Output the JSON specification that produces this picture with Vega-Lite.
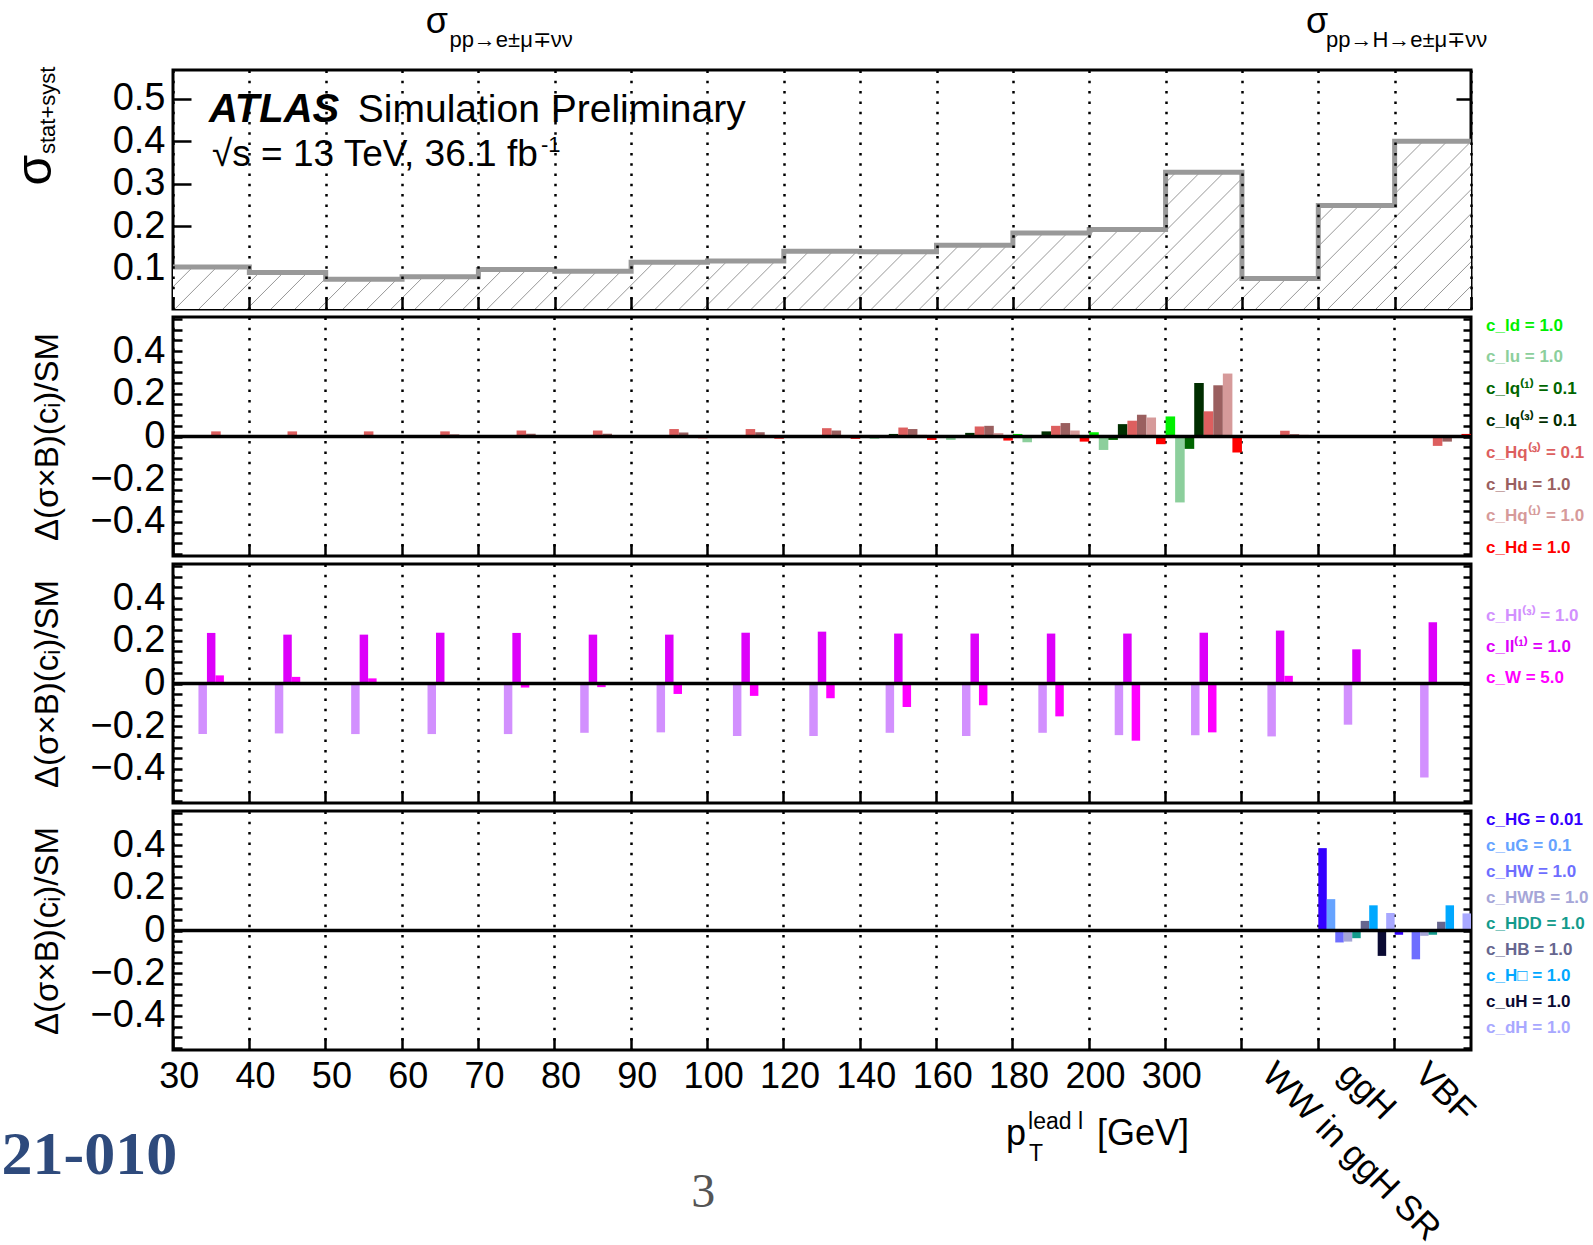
{
"$schema":"https://vega.github.io/schema/vega-lite/v6.json",
"background":"white",
"padding":{"left":0,"top":2,"right":0,"bottom":0},
"autosize":{"type":"pad"},
"config":{"view":{"stroke":"black","strokeWidth":3},"font":"Liberation Sans","axis":{"domain":false,"labelColor":"black","tickColor":"black","tickWidth":2.5,"titleColor":"black","titleFontWeight":"normal","labelFont":"Liberation Sans","titleFont":"Liberation Sans"}},
"datasets":{
"top":[{"i":0,"v":0.104},{"i":1,"v":0.091},{"i":2,"v":0.075},{"i":3,"v":0.081},{"i":4,"v":0.098},{"i":5,"v":0.094},{"i":6,"v":0.115},{"i":7,"v":0.118},{"i":8,"v":0.141},{"i":9,"v":0.140},{"i":10,"v":0.155},{"i":11,"v":0.184},{"i":12,"v":0.192},{"i":13,"v":0.327},{"i":14,"v":0.077},{"i":15,"v":0.249},{"i":16,"v":0.400},{"i":17,"v":0.400}],
"p2":[
{"b":"30","s":"c_Hq⁽³⁾ = 0.1","v":0.024},{"b":"30","s":"c_Hu = 1.0","v":0.004},{"b":"30","s":"c_Hq⁽¹⁾ = 1.0","v":0.002},
{"b":"40","s":"c_Hq⁽³⁾ = 0.1","v":0.024},{"b":"40","s":"c_Hu = 1.0","v":0.004},{"b":"40","s":"c_Hq⁽¹⁾ = 1.0","v":0.002},
{"b":"50","s":"c_Hq⁽³⁾ = 0.1","v":0.024},{"b":"50","s":"c_Hu = 1.0","v":0.004},{"b":"50","s":"c_Hq⁽¹⁾ = 1.0","v":0.002},
{"b":"60","s":"c_Hq⁽³⁾ = 0.1","v":0.024},{"b":"60","s":"c_Hu = 1.0","v":0.010},{"b":"60","s":"c_Hq⁽¹⁾ = 1.0","v":0.003},{"b":"60","s":"c_Hd = 1.0","v":-0.005},
{"b":"70","s":"c_Hq⁽³⁾ = 0.1","v":0.028},{"b":"70","s":"c_Hu = 1.0","v":0.013},{"b":"70","s":"c_Hq⁽¹⁾ = 1.0","v":0.003},{"b":"70","s":"c_Hd = 1.0","v":-0.005},
{"b":"80","s":"c_Hq⁽³⁾ = 0.1","v":0.028},{"b":"80","s":"c_Hu = 1.0","v":0.013},{"b":"80","s":"c_Hq⁽¹⁾ = 1.0","v":0.003},{"b":"80","s":"c_Hd = 1.0","v":-0.005},
{"b":"90","s":"c_lq⁽¹⁾ = 0.1","v":-0.003},{"b":"90","s":"c_Hq⁽³⁾ = 0.1","v":0.035},{"b":"90","s":"c_Hu = 1.0","v":0.019},{"b":"90","s":"c_Hq⁽¹⁾ = 1.0","v":0.004},{"b":"90","s":"c_Hd = 1.0","v":-0.008},
{"b":"100","s":"c_lu = 1.0","v":-0.004},{"b":"100","s":"c_lq⁽¹⁾ = 0.1","v":-0.005},{"b":"100","s":"c_Hq⁽³⁾ = 0.1","v":0.035},{"b":"100","s":"c_Hu = 1.0","v":0.020},{"b":"100","s":"c_Hq⁽¹⁾ = 1.0","v":0.004},{"b":"100","s":"c_Hd = 1.0","v":-0.010},
{"b":"120","s":"c_lu = 1.0","v":-0.005},{"b":"120","s":"c_lq⁽¹⁾ = 0.1","v":-0.004},{"b":"120","s":"c_lq⁽³⁾ = 0.1","v":0.005},{"b":"120","s":"c_Hq⁽³⁾ = 0.1","v":0.039},{"b":"120","s":"c_Hu = 1.0","v":0.028},{"b":"120","s":"c_Hq⁽¹⁾ = 1.0","v":0.006},{"b":"120","s":"c_Hd = 1.0","v":-0.011},
{"b":"140","s":"c_ld = 1.0","v":0.002},{"b":"140","s":"c_lu = 1.0","v":-0.011},{"b":"140","s":"c_lq⁽¹⁾ = 0.1","v":-0.003},{"b":"140","s":"c_lq⁽³⁾ = 0.1","v":0.012},{"b":"140","s":"c_Hq⁽³⁾ = 0.1","v":0.042},{"b":"140","s":"c_Hu = 1.0","v":0.035},{"b":"140","s":"c_Hq⁽¹⁾ = 1.0","v":0.008},{"b":"140","s":"c_Hd = 1.0","v":-0.016},
{"b":"160","s":"c_ld = 1.0","v":0.004},{"b":"160","s":"c_lu = 1.0","v":-0.016},{"b":"160","s":"c_lq⁽¹⁾ = 0.1","v":-0.003},{"b":"160","s":"c_lq⁽³⁾ = 0.1","v":0.017},{"b":"160","s":"c_Hq⁽³⁾ = 0.1","v":0.047},{"b":"160","s":"c_Hu = 1.0","v":0.050},{"b":"160","s":"c_Hq⁽¹⁾ = 1.0","v":0.016},{"b":"160","s":"c_Hd = 1.0","v":-0.019},
{"b":"180","s":"c_ld = 1.0","v":0.012},{"b":"180","s":"c_lu = 1.0","v":-0.027},{"b":"180","s":"c_lq⁽¹⁾ = 0.1","v":-0.005},{"b":"180","s":"c_lq⁽³⁾ = 0.1","v":0.024},{"b":"180","s":"c_Hq⁽³⁾ = 0.1","v":0.050},{"b":"180","s":"c_Hu = 1.0","v":0.063},{"b":"180","s":"c_Hq⁽¹⁾ = 1.0","v":0.028},{"b":"180","s":"c_Hd = 1.0","v":-0.024},
{"b":"200","s":"c_ld = 1.0","v":0.020},{"b":"200","s":"c_lu = 1.0","v":-0.063},{"b":"200","s":"c_lq⁽¹⁾ = 0.1","v":-0.016},{"b":"200","s":"c_lq⁽³⁾ = 0.1","v":0.058},{"b":"200","s":"c_Hq⁽³⁾ = 0.1","v":0.074},{"b":"200","s":"c_Hu = 1.0","v":0.102},{"b":"200","s":"c_Hq⁽¹⁾ = 1.0","v":0.089},{"b":"200","s":"c_Hd = 1.0","v":-0.036},
{"b":"300","s":"c_ld = 1.0","v":0.094},{"b":"300","s":"c_lu = 1.0","v":-0.309},{"b":"300","s":"c_lq⁽¹⁾ = 0.1","v":-0.058},{"b":"300","s":"c_lq⁽³⁾ = 0.1","v":0.251},{"b":"300","s":"c_Hq⁽³⁾ = 0.1","v":0.118},{"b":"300","s":"c_Hu = 1.0","v":0.240},{"b":"300","s":"c_Hq⁽¹⁾ = 1.0","v":0.295},{"b":"300","s":"c_Hd = 1.0","v":-0.075},
{"b":"WW in ggH SR","s":"c_Hq⁽³⁾ = 0.1","v":0.027},{"b":"WW in ggH SR","s":"c_Hu = 1.0","v":0.011},{"b":"WW in ggH SR","s":"c_Hq⁽¹⁾ = 1.0","v":0.008},{"b":"WW in ggH SR","s":"c_Hd = 1.0","v":0.003},
{"b":"VBF","s":"c_Hq⁽³⁾ = 0.1","v":-0.044},{"b":"VBF","s":"c_Hu = 1.0","v":-0.024},{"b":"VBF","s":"c_Hq⁽¹⁾ = 1.0","v":-0.002},{"b":"VBF","s":"c_Hd = 1.0","v":0.012}
],
"p3":[
{"b":"30","s":"c_Hl⁽³⁾ = 1.0","v":-0.237},{"b":"30","s":"c_ll⁽¹⁾ = 1.0","v":0.237},{"b":"30","s":"c_W = 5.0","v":0.038},
{"b":"40","s":"c_Hl⁽³⁾ = 1.0","v":-0.234},{"b":"40","s":"c_ll⁽¹⁾ = 1.0","v":0.229},{"b":"40","s":"c_W = 5.0","v":0.031},
{"b":"50","s":"c_Hl⁽³⁾ = 1.0","v":-0.237},{"b":"50","s":"c_ll⁽¹⁾ = 1.0","v":0.229},{"b":"50","s":"c_W = 5.0","v":0.024},
{"b":"60","s":"c_Hl⁽³⁾ = 1.0","v":-0.237},{"b":"60","s":"c_ll⁽¹⁾ = 1.0","v":0.238},{"b":"60","s":"c_W = 5.0","v":0.003},
{"b":"70","s":"c_Hl⁽³⁾ = 1.0","v":-0.237},{"b":"70","s":"c_ll⁽¹⁾ = 1.0","v":0.237},{"b":"70","s":"c_W = 5.0","v":-0.019},
{"b":"80","s":"c_Hl⁽³⁾ = 1.0","v":-0.231},{"b":"80","s":"c_ll⁽¹⁾ = 1.0","v":0.229},{"b":"80","s":"c_W = 5.0","v":-0.017},
{"b":"90","s":"c_Hl⁽³⁾ = 1.0","v":-0.229},{"b":"90","s":"c_ll⁽¹⁾ = 1.0","v":0.229},{"b":"90","s":"c_W = 5.0","v":-0.049},
{"b":"100","s":"c_Hl⁽³⁾ = 1.0","v":-0.246},{"b":"100","s":"c_ll⁽¹⁾ = 1.0","v":0.238},{"b":"100","s":"c_W = 5.0","v":-0.058},
{"b":"120","s":"c_Hl⁽³⁾ = 1.0","v":-0.246},{"b":"120","s":"c_ll⁽¹⁾ = 1.0","v":0.243},{"b":"120","s":"c_W = 5.0","v":-0.069},
{"b":"140","s":"c_Hl⁽³⁾ = 1.0","v":-0.231},{"b":"140","s":"c_ll⁽¹⁾ = 1.0","v":0.234},{"b":"140","s":"c_W = 5.0","v":-0.110},
{"b":"160","s":"c_Hl⁽³⁾ = 1.0","v":-0.246},{"b":"160","s":"c_ll⁽¹⁾ = 1.0","v":0.234},{"b":"160","s":"c_W = 5.0","v":-0.102},
{"b":"180","s":"c_Hl⁽³⁾ = 1.0","v":-0.231},{"b":"180","s":"c_ll⁽¹⁾ = 1.0","v":0.234},{"b":"180","s":"c_W = 5.0","v":-0.154},
{"b":"200","s":"c_Hl⁽³⁾ = 1.0","v":-0.242},{"b":"200","s":"c_ll⁽¹⁾ = 1.0","v":0.234},{"b":"200","s":"c_W = 5.0","v":-0.268},
{"b":"300","s":"c_Hl⁽³⁾ = 1.0","v":-0.242},{"b":"300","s":"c_ll⁽¹⁾ = 1.0","v":0.238},{"b":"300","s":"c_W = 5.0","v":-0.229},
{"b":"WW in ggH SR","s":"c_Hl⁽³⁾ = 1.0","v":-0.248},{"b":"WW in ggH SR","s":"c_ll⁽¹⁾ = 1.0","v":0.248},{"b":"WW in ggH SR","s":"c_W = 5.0","v":0.036},
{"b":"ggH","s":"c_Hl⁽³⁾ = 1.0","v":-0.193},{"b":"ggH","s":"c_ll⁽¹⁾ = 1.0","v":0.160},{"b":"ggH","s":"c_W = 5.0","v":0.002},
{"b":"VBF","s":"c_Hl⁽³⁾ = 1.0","v":-0.441},{"b":"VBF","s":"c_ll⁽¹⁾ = 1.0","v":0.287},{"b":"VBF","s":"c_W = 5.0","v":0.002}
],
"p4":[
{"b":"30","s":"c_H□ = 1.0","v":0.003},{"b":"40","s":"c_H□ = 1.0","v":0.003},{"b":"160","s":"c_HW = 1.0","v":-0.003},{"b":"180","s":"c_HW = 1.0","v":-0.003},{"b":"200","s":"c_H□ = 1.0","v":0.003},{"b":"300","s":"c_HDD = 1.0","v":0.003},{"b":"300","s":"c_H□ = 1.0","v":0.003},
{"b":"ggH","s":"c_HG = 0.01","v":0.386},{"b":"ggH","s":"c_uG = 0.1","v":0.147},{"b":"ggH","s":"c_HW = 1.0","v":-0.056},{"b":"ggH","s":"c_HWB = 1.0","v":-0.052},{"b":"ggH","s":"c_HDD = 1.0","v":-0.036},{"b":"ggH","s":"c_HB = 1.0","v":0.045},{"b":"ggH","s":"c_H□ = 1.0","v":0.118},{"b":"ggH","s":"c_uH = 1.0","v":-0.119},{"b":"ggH","s":"c_dH = 1.0","v":0.082},
{"b":"VBF","s":"c_HG = 0.01","v":-0.020},{"b":"VBF","s":"c_uG = 0.1","v":0.003},{"b":"VBF","s":"c_HW = 1.0","v":-0.135},{"b":"VBF","s":"c_HWB = 1.0","v":-0.025},{"b":"VBF","s":"c_HDD = 1.0","v":-0.020},{"b":"VBF","s":"c_HB = 1.0","v":0.041},{"b":"VBF","s":"c_H□ = 1.0","v":0.118},{"b":"VBF","s":"c_uH = 1.0","v":0.005},{"b":"VBF","s":"c_dH = 1.0","v":0.080}
]
},
"spacing":8,
"bounds":"flush",
"resolve":{"scale":{"x":"independent","y":"independent","color":"independent","xOffset":"independent"},"legend":{"color":"independent"}},
"vconcat":[
{
"width":1298,"height":239,
"layer":[
{"data":{"name":"top"},"mark":{"type":"area","interpolate":"step-after","clip":true,
"color":{"gradient":"linear","x1":0,"y1":0,"x2":1.11,"y2":0.143,"stops":[
{"offset":0,"color":"#fff"},{"offset":0.0007,"color":"#999"},{"offset":0.0014,"color":"#fff"},
{"offset":0.0164,"color":"#fff"},{"offset":0.0171,"color":"#999"},{"offset":0.0178,"color":"#fff"},
{"offset":0.0328,"color":"#fff"},{"offset":0.0335,"color":"#999"},{"offset":0.0342,"color":"#fff"},
{"offset":0.0492,"color":"#fff"},{"offset":0.0499,"color":"#999"},{"offset":0.0506,"color":"#fff"},
{"offset":0.0656,"color":"#fff"},{"offset":0.0663,"color":"#999"},{"offset":0.067,"color":"#fff"},
{"offset":0.082,"color":"#fff"},{"offset":0.0827,"color":"#999"},{"offset":0.0834,"color":"#fff"},
{"offset":0.0984,"color":"#fff"},{"offset":0.0991,"color":"#999"},{"offset":0.0998,"color":"#fff"},
{"offset":0.1148,"color":"#fff"},{"offset":0.1155,"color":"#999"},{"offset":0.1162,"color":"#fff"},
{"offset":0.1312,"color":"#fff"},{"offset":0.1319,"color":"#999"},{"offset":0.1326,"color":"#fff"},
{"offset":0.1476,"color":"#fff"},{"offset":0.1483,"color":"#999"},{"offset":0.149,"color":"#fff"},
{"offset":0.164,"color":"#fff"},{"offset":0.1647,"color":"#999"},{"offset":0.1654,"color":"#fff"},
{"offset":0.1804,"color":"#fff"},{"offset":0.1811,"color":"#999"},{"offset":0.1818,"color":"#fff"},
{"offset":0.1968,"color":"#fff"},{"offset":0.1975,"color":"#999"},{"offset":0.1982,"color":"#fff"},
{"offset":0.2132,"color":"#fff"},{"offset":0.2139,"color":"#999"},{"offset":0.2146,"color":"#fff"},
{"offset":0.2296,"color":"#fff"},{"offset":0.2303,"color":"#999"},{"offset":0.231,"color":"#fff"},
{"offset":0.246,"color":"#fff"},{"offset":0.2467,"color":"#999"},{"offset":0.2474,"color":"#fff"},
{"offset":0.2624,"color":"#fff"},{"offset":0.2631,"color":"#999"},{"offset":0.2638,"color":"#fff"},
{"offset":0.2788,"color":"#fff"},{"offset":0.2795,"color":"#999"},{"offset":0.2802,"color":"#fff"},
{"offset":0.2952,"color":"#fff"},{"offset":0.2959,"color":"#999"},{"offset":0.2966,"color":"#fff"},
{"offset":0.3116,"color":"#fff"},{"offset":0.3123,"color":"#999"},{"offset":0.313,"color":"#fff"},
{"offset":0.328,"color":"#fff"},{"offset":0.3287,"color":"#999"},{"offset":0.3294,"color":"#fff"},
{"offset":0.3444,"color":"#fff"},{"offset":0.3451,"color":"#999"},{"offset":0.3458,"color":"#fff"},
{"offset":0.3608,"color":"#fff"},{"offset":0.3615,"color":"#999"},{"offset":0.3622,"color":"#fff"},
{"offset":0.3772,"color":"#fff"},{"offset":0.3779,"color":"#999"},{"offset":0.3786,"color":"#fff"},
{"offset":0.3936,"color":"#fff"},{"offset":0.3943,"color":"#999"},{"offset":0.395,"color":"#fff"},
{"offset":0.41,"color":"#fff"},{"offset":0.4107,"color":"#999"},{"offset":0.4114,"color":"#fff"},
{"offset":0.4264,"color":"#fff"},{"offset":0.4271,"color":"#999"},{"offset":0.4278,"color":"#fff"},
{"offset":0.4428,"color":"#fff"},{"offset":0.4435,"color":"#999"},{"offset":0.4442,"color":"#fff"},
{"offset":0.4592,"color":"#fff"},{"offset":0.4599,"color":"#999"},{"offset":0.4606,"color":"#fff"},
{"offset":0.4756,"color":"#fff"},{"offset":0.4763,"color":"#999"},{"offset":0.477,"color":"#fff"},
{"offset":0.492,"color":"#fff"},{"offset":0.4927,"color":"#999"},{"offset":0.4934,"color":"#fff"},
{"offset":0.5084,"color":"#fff"},{"offset":0.5091,"color":"#999"},{"offset":0.5098,"color":"#fff"},
{"offset":0.5248,"color":"#fff"},{"offset":0.5255,"color":"#999"},{"offset":0.5262,"color":"#fff"},
{"offset":0.5412,"color":"#fff"},{"offset":0.5419,"color":"#999"},{"offset":0.5426,"color":"#fff"},
{"offset":0.5576,"color":"#fff"},{"offset":0.5583,"color":"#999"},{"offset":0.559,"color":"#fff"},
{"offset":0.574,"color":"#fff"},{"offset":0.5747,"color":"#999"},{"offset":0.5754,"color":"#fff"},
{"offset":0.5904,"color":"#fff"},{"offset":0.5911,"color":"#999"},{"offset":0.5918,"color":"#fff"},
{"offset":0.6068,"color":"#fff"},{"offset":0.6075,"color":"#999"},{"offset":0.6082,"color":"#fff"},
{"offset":0.6232,"color":"#fff"},{"offset":0.6239,"color":"#999"},{"offset":0.6246,"color":"#fff"},
{"offset":0.6396,"color":"#fff"},{"offset":0.6403,"color":"#999"},{"offset":0.641,"color":"#fff"},
{"offset":0.656,"color":"#fff"},{"offset":0.6567,"color":"#999"},{"offset":0.6574,"color":"#fff"},
{"offset":0.6724,"color":"#fff"},{"offset":0.6731,"color":"#999"},{"offset":0.6738,"color":"#fff"},
{"offset":0.6888,"color":"#fff"},{"offset":0.6895,"color":"#999"},{"offset":0.6902,"color":"#fff"},
{"offset":0.7052,"color":"#fff"},{"offset":0.7059,"color":"#999"},{"offset":0.7066,"color":"#fff"},
{"offset":0.7216,"color":"#fff"},{"offset":0.7223,"color":"#999"},{"offset":0.723,"color":"#fff"},
{"offset":0.738,"color":"#fff"},{"offset":0.7387,"color":"#999"},{"offset":0.7394,"color":"#fff"},
{"offset":0.7544,"color":"#fff"},{"offset":0.7551,"color":"#999"},{"offset":0.7558,"color":"#fff"},
{"offset":0.7708,"color":"#fff"},{"offset":0.7715,"color":"#999"},{"offset":0.7722,"color":"#fff"},
{"offset":0.7872,"color":"#fff"},{"offset":0.7879,"color":"#999"},{"offset":0.7886,"color":"#fff"},
{"offset":0.8036,"color":"#fff"},{"offset":0.8043,"color":"#999"},{"offset":0.805,"color":"#fff"},
{"offset":0.82,"color":"#fff"},{"offset":0.8207,"color":"#999"},{"offset":0.8214,"color":"#fff"},
{"offset":0.8364,"color":"#fff"},{"offset":0.8371,"color":"#999"},{"offset":0.8378,"color":"#fff"},
{"offset":0.8528,"color":"#fff"},{"offset":0.8535,"color":"#999"},{"offset":0.8542,"color":"#fff"},
{"offset":0.8692,"color":"#fff"},{"offset":0.8699,"color":"#999"},{"offset":0.8706,"color":"#fff"},
{"offset":0.8856,"color":"#fff"},{"offset":0.8863,"color":"#999"},{"offset":0.887,"color":"#fff"},
{"offset":0.902,"color":"#fff"},{"offset":0.9027,"color":"#999"},{"offset":0.9034,"color":"#fff"},
{"offset":0.9184,"color":"#fff"},{"offset":0.9191,"color":"#999"},{"offset":0.9198,"color":"#fff"},
{"offset":0.9348,"color":"#fff"},{"offset":0.9355,"color":"#999"},{"offset":0.9362,"color":"#fff"},
{"offset":0.9512,"color":"#fff"},{"offset":0.9519,"color":"#999"},{"offset":0.9526,"color":"#fff"},
{"offset":0.9676,"color":"#fff"},{"offset":0.9683,"color":"#999"},{"offset":0.969,"color":"#fff"},
{"offset":0.984,"color":"#fff"},{"offset":0.9847,"color":"#999"},{"offset":0.9854,"color":"#fff"}
]}},
"encoding":{
"x":{"field":"i","type":"quantitative","scale":{"domain":[0,17],"nice":false,"zero":false},"axis":{"values":[0,1,2,3,4,5,6,7,8,9,10,11,12,13,14,15,16,17],"grid":true,"gridDash":[2.5,7.8],"gridColor":"black","gridWidth":2.5,"labels":false,"tickSize":-12,"title":null,"zindex":1}},
"y":{"field":"v","type":"quantitative","scale":{"domain":[0.005,0.568],"nice":false,"zero":false},"axis":{"orient":"left","values":[0.1,0.2,0.3,0.4,0.5],"format":".1f","labelFontSize":38,"labelPadding":26,"tickSize":-18,"grid":false,"title":null,"labelOverlap":false}},
"y2":{"datum":0.005}}},
{"data":{"name":"top"},"mark":{"type":"line","interpolate":"step-after","color":"#999999","strokeWidth":5},
"encoding":{
"x":{"field":"i","type":"quantitative","axis":null},
"y":{"field":"v","type":"quantitative","axis":{"orient":"right","values":[0.1,0.2,0.3,0.4,0.5],"labels":false,"tickSize":-15,"grid":false,"title":null}}}},
{"data":{"values":[{}]},"mark":{"type":"text","text":"ATLAS","fontSize":40,"fontWeight":"bold","fontStyle":"italic","align":"left","baseline":"alphabetic","color":"black"},
"encoding":{"x":{"datum":0.47,"type":"quantitative","axis":null},"y":{"datum":0.4445,"type":"quantitative","axis":null}}},
{"data":{"values":[{}]},"mark":{"type":"text","text":"Simulation Preliminary","fontSize":39,"align":"left","baseline":"alphabetic","color":"black"},
"encoding":{"x":{"datum":2.42,"type":"quantitative","axis":null},"y":{"datum":0.4445,"type":"quantitative","axis":null}}},
{"data":{"values":[{}]},"mark":{"type":"text","text":"√s = 13 TeV, 36.1 fb","fontSize":37,"align":"left","baseline":"alphabetic","color":"black"},
"encoding":{"x":{"datum":0.51,"type":"quantitative","axis":null},"y":{"datum":0.343,"type":"quantitative","axis":null}}},
{"data":{"values":[{}]},"mark":{"type":"text","text":"-1","fontSize":22,"align":"left","baseline":"alphabetic","color":"black"},
"encoding":{"x":{"datum":4.82,"type":"quantitative","axis":null},"y":{"datum":0.376,"type":"quantitative","axis":null}}},
{"data":{"values":[{}]},"mark":{"type":"text","text":"σ","fontSize":36,"align":"left","baseline":"alphabetic","color":"black"},
"encoding":{"x":{"datum":3.31,"type":"quantitative","axis":null},"y":{"datum":0.656,"type":"quantitative","axis":null}}},
{"data":{"values":[{}]},"mark":{"type":"text","text":"pp→e±μ∓νν","fontSize":22,"align":"left","baseline":"alphabetic","color":"black"},
"encoding":{"x":{"datum":3.62,"type":"quantitative","axis":null},"y":{"datum":0.623,"type":"quantitative","axis":null}}},
{"data":{"values":[{}]},"mark":{"type":"text","text":"σ","fontSize":36,"align":"left","baseline":"alphabetic","color":"black"},
"encoding":{"x":{"datum":14.84,"type":"quantitative","axis":null},"y":{"datum":0.656,"type":"quantitative","axis":null}}},
{"data":{"values":[{}]},"mark":{"type":"text","text":"pp→H→e±μ∓νν","fontSize":22,"align":"left","baseline":"alphabetic","color":"black"},
"encoding":{"x":{"datum":15.1,"type":"quantitative","axis":null},"y":{"datum":0.623,"type":"quantitative","axis":null}}},
{"data":{"values":[{}]},"mark":{"type":"text","text":"σ","fontSize":50,"angle":270,"align":"center","baseline":"middle","color":"black"},
"encoding":{"x":{"datum":-1.79,"type":"quantitative","axis":null},"y":{"datum":0.332,"type":"quantitative","axis":null}}},
{"data":{"values":[{}]},"mark":{"type":"text","text":"stat+syst","fontSize":22,"angle":270,"align":"center","baseline":"middle","color":"black"},
"encoding":{"x":{"datum":-1.64,"type":"quantitative","axis":null},"y":{"datum":0.473,"type":"quantitative","axis":null}}}
],
"resolve":{"axis":{"x":"independent","y":"independent"}}
},
{
"width":1298,"height":239,
"layer":[
{"data":{"name":"p2"},"mark":{"type":"bar"},
"encoding":{
"x":{"field":"b","type":"nominal","sort":null,"scale":{"domain":["30","40","50","60","70","80","90","100","120","140","160","180","200","300","WW in ggH SR","ggH","VBF"],"paddingInner":0,"paddingOuter":0},"axis":{"bandPosition":0,"grid":true,"gridDash":[2.5,7.8],"gridColor":"black","gridWidth":2.5,"labels":false,"tickSize":-12,"title":null}},
"xOffset":{"field":"s","type":"nominal","sort":null,"scale":{"domain":["c_ld = 1.0","c_lu = 1.0","c_lq⁽¹⁾ = 0.1","c_lq⁽³⁾ = 0.1","c_Hq⁽³⁾ = 0.1","c_Hu = 1.0","c_Hq⁽¹⁾ = 1.0","c_Hd = 1.0"],"paddingInner":0,"paddingOuter":0}},
"y":{"field":"v","type":"quantitative","scale":{"domain":[-0.56,0.56],"nice":false},"axis":{"orient":"left","values":[-0.55,-0.5,-0.45,-0.4,-0.35,-0.3,-0.25,-0.2,-0.15,-0.1,-0.05,0,0.05,0.1,0.15,0.2,0.25,0.3,0.35,0.4,0.45,0.5,0.55],"format":".1~f","labelExpr":"abs(round(datum.value*100)) % 20 == 0 ? datum.label : ''","labelFontSize":38,"labelPadding":17,"labelOverlap":false,"tickSize":-9,"grid":false,"title":"Δ(σ×B)(cᵢ)/SM","titleFontSize":33,"titlePadding":25,"encode":{"ticks":{"update":{"x2":{"signal":"abs(round(datum.value*100)) % 20 == 0 ? 18 : 9"}}}}}},
"color":{"field":"s","type":"nominal","sort":null,"scale":{"domain":["c_ld = 1.0","c_lu = 1.0","c_lq⁽¹⁾ = 0.1","c_lq⁽³⁾ = 0.1","c_Hq⁽³⁾ = 0.1","c_Hu = 1.0","c_Hq⁽¹⁾ = 1.0","c_Hd = 1.0"],"range":["#00f000","#8ccf9c","#006600","#002e00","#dd5f5f","#9a5f5f","#d69a9a","#ff0000"]},
"legend":{"orient":"right","offset":-4,"title":null,"padding":0,"symbolSize":0,"symbolOpacity":0,"symbolStrokeWidth":0,"labelOffset":0,"labelFontSize":17,"labelFontWeight":"bold","labelFont":"Liberation Sans","rowPadding":13.8,"labelLimit":300,
"encode":{"labels":{"update":{"fill":{"signal":"['#00f000','#8ccf9c','#006600','#002e00','#dd5f5f','#9a5f5f','#d69a9a','#ff0000'][indexof(['c_ld = 1.0','c_lu = 1.0','c_lq⁽¹⁾ = 0.1','c_lq⁽³⁾ = 0.1','c_Hq⁽³⁾ = 0.1','c_Hu = 1.0','c_Hq⁽¹⁾ = 1.0','c_Hd = 1.0'], datum.value)]"}}}}}}
}},
{"data":{"values":[{}]},"mark":{"type":"rule","color":"black","strokeWidth":3.5},
"encoding":{"y":{"datum":0,"type":"quantitative","axis":{"orient":"right","values":[-0.55,-0.5,-0.45,-0.4,-0.35,-0.3,-0.25,-0.2,-0.15,-0.1,-0.05,0,0.05,0.1,0.15,0.2,0.25,0.3,0.35,0.4,0.45,0.5,0.55],"labels":false,"tickSize":-8,"grid":false,"title":null,"encode":{"ticks":{"update":{"x2":{"signal":"abs(round(datum.value*100)) % 20 == 0 ? -15 : -8"}}}}}}}}
],
"resolve":{"axis":{"y":"independent"}}
},
{
"width":1298,"height":239,
"layer":[
{"data":{"name":"p3"},"mark":{"type":"bar"},
"encoding":{
"x":{"field":"b","type":"nominal","sort":null,"scale":{"domain":["30","40","50","60","70","80","90","100","120","140","160","180","200","300","WW in ggH SR","ggH","VBF"],"paddingInner":0,"paddingOuter":0},"axis":{"bandPosition":0,"grid":true,"gridDash":[2.5,7.8],"gridColor":"black","gridWidth":2.5,"labels":false,"tickSize":-12,"title":null}},
"xOffset":{"field":"s","type":"nominal","sort":null,"scale":{"domain":["slot 1","slot 2","slot 3","c_Hl⁽³⁾ = 1.0","c_ll⁽¹⁾ = 1.0","c_W = 5.0","slot 7","slot 8","slot 9"],"paddingInner":0,"paddingOuter":0}},
"y":{"field":"v","type":"quantitative","scale":{"domain":[-0.56,0.56],"nice":false},"axis":{"orient":"left","values":[-0.55,-0.5,-0.45,-0.4,-0.35,-0.3,-0.25,-0.2,-0.15,-0.1,-0.05,0,0.05,0.1,0.15,0.2,0.25,0.3,0.35,0.4,0.45,0.5,0.55],"format":".1~f","labelExpr":"abs(round(datum.value*100)) % 20 == 0 ? datum.label : ''","labelFontSize":38,"labelPadding":17,"labelOverlap":false,"tickSize":-9,"grid":false,"title":"Δ(σ×B)(cᵢ)/SM","titleFontSize":33,"titlePadding":25,"encode":{"ticks":{"update":{"x2":{"signal":"abs(round(datum.value*100)) % 20 == 0 ? 18 : 9"}}}}}},
"color":{"field":"s","type":"nominal","sort":null,"scale":{"domain":["c_Hl⁽³⁾ = 1.0","c_ll⁽¹⁾ = 1.0","c_W = 5.0"],"range":["#d290fe","#dd00fa","#ff00ff"]},
"legend":{"orient":"right","offset":-4,"title":" ","titleFontSize":17,"titlePadding":26,"padding":0,"symbolSize":0,"symbolOpacity":0,"symbolStrokeWidth":0,"labelOffset":0,"labelFontSize":17,"labelFontWeight":"bold","labelFont":"Liberation Sans","rowPadding":13.1,"labelLimit":300,
"encode":{"labels":{"update":{"fill":{"signal":"['#d290fe','#dd00fa','#ff00ff'][indexof(['c_Hl⁽³⁾ = 1.0','c_ll⁽¹⁾ = 1.0','c_W = 5.0'], datum.value)]"}}}}}}
}},
{"data":{"values":[{}]},"mark":{"type":"rule","color":"black","strokeWidth":3.5},
"encoding":{"y":{"datum":0,"type":"quantitative","axis":{"orient":"right","values":[-0.55,-0.5,-0.45,-0.4,-0.35,-0.3,-0.25,-0.2,-0.15,-0.1,-0.05,0,0.05,0.1,0.15,0.2,0.25,0.3,0.35,0.4,0.45,0.5,0.55],"labels":false,"tickSize":-8,"grid":false,"title":null,"encode":{"ticks":{"update":{"x2":{"signal":"abs(round(datum.value*100)) % 20 == 0 ? -15 : -8"}}}}}}}}
],
"resolve":{"axis":{"y":"independent"}}
},
{
"width":1298,"height":239,
"layer":[
{"data":{"name":"p4"},"mark":{"type":"bar"},
"encoding":{
"x":{"field":"b","type":"nominal","sort":null,"scale":{"domain":["30","40","50","60","70","80","90","100","120","140","160","180","200","300","WW in ggH SR","ggH","VBF"],"paddingInner":0,"paddingOuter":0},"axis":{"orient":"bottom","bandPosition":0,"grid":true,"gridDash":[2.5,7.8],"gridColor":"black","gridWidth":2.5,"tickSize":-12,"title":null,"labelExpr":"indexof(['WW in ggH SR','ggH','VBF'], datum.label) >= 0 ? '' : datum.label","labelFontSize":36,"labelPadding":21,"labelOffset":-32,"labelAngle":0,"labelOverlap":false,"labelFlush":false}},
"xOffset":{"field":"s","type":"nominal","sort":null,"scale":{"domain":["c_HG = 0.01","c_uG = 0.1","c_HW = 1.0","c_HWB = 1.0","c_HDD = 1.0","c_HB = 1.0","c_H□ = 1.0","c_uH = 1.0","c_dH = 1.0"],"paddingInner":0,"paddingOuter":0}},
"y":{"field":"v","type":"quantitative","scale":{"domain":[-0.56,0.56],"nice":false},"axis":{"orient":"left","values":[-0.55,-0.5,-0.45,-0.4,-0.35,-0.3,-0.25,-0.2,-0.15,-0.1,-0.05,0,0.05,0.1,0.15,0.2,0.25,0.3,0.35,0.4,0.45,0.5,0.55],"format":".1~f","labelExpr":"abs(round(datum.value*100)) % 20 == 0 ? datum.label : ''","labelFontSize":38,"labelPadding":17,"labelOverlap":false,"tickSize":-9,"grid":false,"title":"Δ(σ×B)(cᵢ)/SM","titleFontSize":33,"titlePadding":25,"encode":{"ticks":{"update":{"x2":{"signal":"abs(round(datum.value*100)) % 20 == 0 ? 18 : 9"}}}}}},
"color":{"field":"s","type":"nominal","sort":null,"scale":{"domain":["c_HG = 0.01","c_uG = 0.1","c_HW = 1.0","c_HWB = 1.0","c_HDD = 1.0","c_HB = 1.0","c_H□ = 1.0","c_uH = 1.0","c_dH = 1.0"],"range":["#3300ff","#66a3ff","#6e6eff","#a6a6d8","#139b8c","#66668f","#00a8ff","#0a0a33","#a8a8ff"]},
"legend":{"orient":"right","offset":-4,"title":null,"padding":0,"symbolSize":0,"symbolOpacity":0,"symbolStrokeWidth":0,"labelOffset":0,"labelFontSize":17,"labelFontWeight":"bold","labelFont":"Liberation Sans","rowPadding":8,"labelLimit":300,
"encode":{"labels":{"update":{"fill":{"signal":"['#3300ff','#66a3ff','#6e6eff','#a6a6d8','#139b8c','#66668f','#00a8ff','#0a0a33','#a8a8ff'][indexof(['c_HG = 0.01','c_uG = 0.1','c_HW = 1.0','c_HWB = 1.0','c_HDD = 1.0','c_HB = 1.0','c_H□ = 1.0','c_uH = 1.0','c_dH = 1.0'], datum.value)]"}}}}}}
}},
{"data":{"values":[{}]},"mark":{"type":"rule","color":"black","strokeWidth":3.5},
"encoding":{"y":{"datum":0,"type":"quantitative","axis":{"orient":"right","values":[-0.55,-0.5,-0.45,-0.4,-0.35,-0.3,-0.25,-0.2,-0.15,-0.1,-0.05,0,0.05,0.1,0.15,0.2,0.25,0.3,0.35,0.4,0.45,0.5,0.55],"labels":false,"tickSize":-8,"grid":false,"title":null,"encode":{"ticks":{"update":{"x2":{"signal":"abs(round(datum.value*100)) % 20 == 0 ? -15 : -8"}}}}}}}},
{"data":{"values":[{}]},"mark":{"type":"text","text":"p","fontSize":36,"align":"left","baseline":"alphabetic","color":"black","dx":-45},
"encoding":{"x":{"datum":"180","type":"nominal","axis":{"orient":"bottom","grid":false,"ticks":false,"domain":false,"title":null,"labelExpr":"indexof(['WW in ggH SR','ggH','VBF'], datum.label) >= 0 ? datum.label : ''","labelAngle":45,"labelAlign":"left","labelBaseline":"top","labelFontSize":35,"labelPadding":6,"labelOverlap":false,"labelLimit":400}},"y":{"datum":-1.007,"type":"quantitative","axis":null}}},
{"data":{"values":[{}]},"mark":{"type":"text","text":"lead l","fontSize":23,"align":"left","baseline":"alphabetic","color":"black","dx":-23},
"encoding":{"x":{"datum":"180","type":"nominal","axis":null},"y":{"datum":-0.932,"type":"quantitative","axis":null}}},
{"data":{"values":[{}]},"mark":{"type":"text","text":"T","fontSize":23,"align":"left","baseline":"alphabetic","color":"black","dx":-22},
"encoding":{"x":{"datum":"180","type":"nominal","axis":null},"y":{"datum":-1.082,"type":"quantitative","axis":null}}},
{"data":{"values":[{}]},"mark":{"type":"text","text":"[GeV]","fontSize":36,"align":"left","baseline":"alphabetic","color":"black","dx":46},
"encoding":{"x":{"datum":"180","type":"nominal","axis":null},"y":{"datum":-1.007,"type":"quantitative","axis":null}}},
{"data":{"values":[{}]},"mark":{"type":"text","text":"3","font":"Liberation Serif","fontSize":48,"align":"center","baseline":"alphabetic","color":"#555555","dx":34},
"encoding":{"x":{"datum":"90","type":"nominal","axis":null},"y":{"datum":-1.294,"type":"quantitative","axis":null}}},
{"data":{"values":[{}]},"mark":{"type":"text","text":"21-010","font":"Liberation Serif","fontSize":62,"fontWeight":"bold","align":"right","baseline":"alphabetic","color":"#2e4a7c","dx":-34},
"encoding":{"x":{"datum":"30","type":"nominal","axis":null},"y":{"datum":-1.139,"type":"quantitative","axis":null}}}
],
"resolve":{"axis":{"x":"independent","y":"independent"}}
}
]
}
